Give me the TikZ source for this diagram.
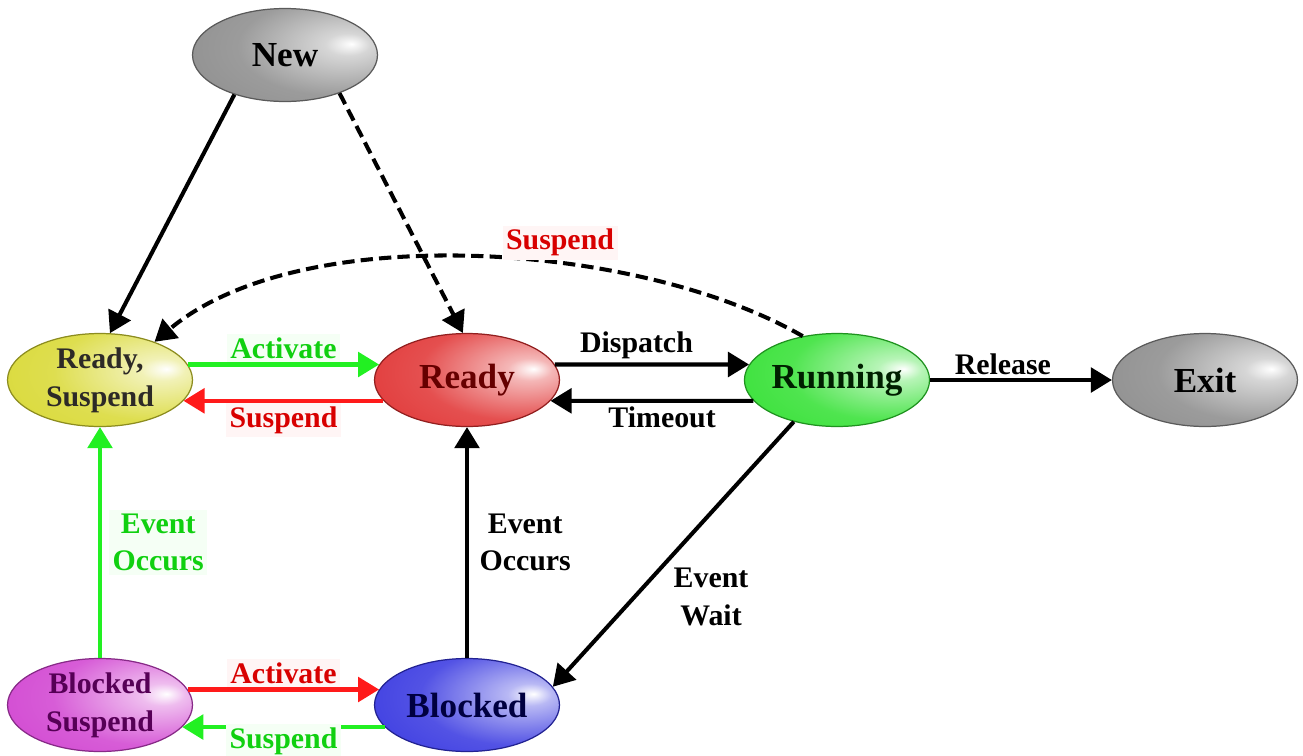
\documentclass[tikz,border=0pt]{standalone}
\usepackage{fontspec}
\setmainfont{Liberation Serif}
\usepackage{xcolor}
\usepackage{tikz}
\usetikzlibrary{arrows.meta,shapes.geometric,positioning}

\definecolor{grayst}{HTML}{8A8A8A}
\definecolor{yellowst}{HTML}{D8D830}
\definecolor{redst}{HTML}{E03030}
\definecolor{greenst}{HTML}{30E030}
\definecolor{magst}{HTML}{D040D0}
\definecolor{bluest}{HTML}{3434E0}
\definecolor{greenln}{HTML}{22F022}
\definecolor{redln}{HTML}{FF1A1A}
\definecolor{greenlbl}{HTML}{10D010}
\definecolor{redlbl}{HTML}{D80000}
\definecolor{magtxt}{HTML}{560056}
\colorlet{statecol}{grayst}
\pgfdeclareradialshading[statecol]{spot}{\pgfpoint{18bp}{6bp}}{color(0bp)=(white); color(6bp)=(statecol!35!white); color(26bp)=(statecol!85!white); color(50bp)=(statecol); color(100bp)=(statecol)}

\begin{document}
\begin{tikzpicture}[x=0.02cm, y=-0.02cm,
	state/.style={ellipse, minimum width=3.7cm, minimum height=1.86cm, inner sep=0pt,
		line width=0.7pt, /utils/exec={\colorlet{statecol}{#1}}, shade, shading=spot,
		draw=#1!65!black, align=center, font=\bfseries\fontsize{20}{22}\selectfont},
	twoline/.style={font=\bfseries\fontsize{17}{21.5}\selectfont},
	trans/.style={line width=2.3pt, -{Triangle[length=12pt,width=14pt]}},
	dashlook/.style={dash pattern=on 7pt off 3.5pt},
	lbl/.style={font=\bfseries\fontsize{17}{21.5}\selectfont, align=center, inner sep=2pt}]

		\useasboundingbox (0,0) rectangle (1303,755);
		\fill[white] (0,0) rectangle (1303,755);

		% states
		\node[state=grayst, text=black] (new) at (285,55) {New};
		\node[state=yellowst, twoline, text=black!90!olive] (rs) at (100,380) {Ready,\\Suspend};
		\node[state=redst, text=red!40!black] (rdy) at (467,380) {Ready};
		\node[state=greenst, text=green!12!black] (run) at (837,380) {Running};
		\node[state=grayst, text=black] (ex) at (1205,380) {Exit};
		\node[state=magst, twoline, text=magtxt] (bs) at (100,705) {Blocked\\Suspend};
		\node[state=bluest, text=blue!25!black] (blk) at (467,705) {Blocked};

		% transitions
		\draw[trans] (new.218) -- (rs.78);
		\draw[trans, dashlook] (new.-35) -- (rdy.95);
		\draw[trans, dashlook] (run.128) to[out=150, in=40, looseness=0.75]
			node[pos=0.38, above=1pt, lbl, text=redlbl, fill=red!4] {Suspend} (rs.35);

		\draw[trans, greenln] (rs.10) -- node[above, lbl, text=greenlbl, fill=green!4] {Activate} (rdy.170);
		\draw[trans, redln] (rdy.194) -- node[below, lbl, text=redlbl, fill=red!4] {Suspend} (rs.-14);

		\draw[trans] (rdy.10) -- node[above, lbl, pos=0.42] {Dispatch} (run.170);
		\draw[trans] (run.194) -- node[below, lbl, pos=0.45] {Timeout} (rdy.-14);
		\draw[trans] (run.east) -- node[above, lbl, pos=0.4] {Release} (ex.west);

		\draw[trans] (run.224) -- node[pos=0.66, right=19pt, lbl] {Event\\Wait} (blk.12);
		\draw[trans] (blk.north) -- node[right=4pt, lbl] {Event\\Occurs} (rdy.south);
		\draw[trans, greenln] (bs.north) -- node[right=4pt, lbl, text=greenlbl, fill=green!4] {Event\\Occurs} (rs.south);

		\draw[trans, redln] (bs.10) -- node[above, lbl, text=redlbl, fill=red!4] {Activate} (blk.170);
		\draw[trans, greenln] (blk.195) -- node[below=-3pt, lbl, text=greenlbl, fill=green!4] {Suspend} (bs.-15);
	\end{tikzpicture}
\end{document}
